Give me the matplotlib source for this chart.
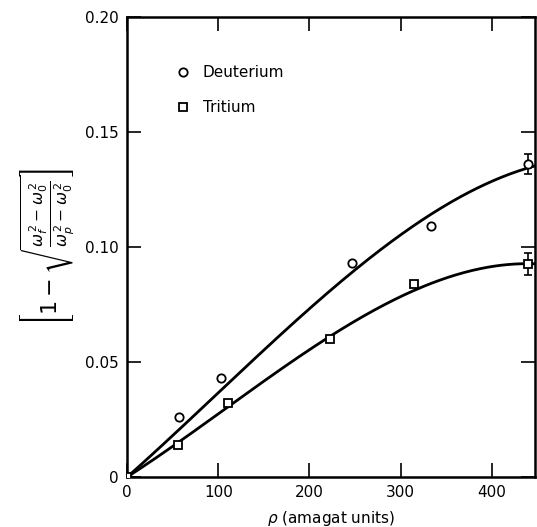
import matplotlib.pyplot as plt
import numpy as np

deut_rho = np.array([0, 57, 103, 247, 333, 440])
deut_val = np.array([0.0, 0.026, 0.043, 0.093, 0.109, 0.136])
deut_err = np.array([0, 0, 0, 0, 0, 0.0045])

trit_rho = np.array([0, 56, 111, 222, 315, 440])
trit_val = np.array([0.0, 0.014, 0.032, 0.060, 0.084, 0.0925])
trit_err = np.array([0, 0, 0, 0, 0, 0.0048])

# Smooth fitted curves
curve_rho = np.array([0, 50, 100, 150, 200, 250, 300, 350, 400, 425, 448])
deut_curve = np.array([0.0, 0.018, 0.0365, 0.055, 0.073, 0.0905, 0.1055, 0.118, 0.128, 0.1322, 0.1357])
trit_curve = np.array([0.0, 0.0135, 0.0275, 0.041, 0.0553, 0.0683, 0.0788, 0.0863, 0.0908, 0.0923, 0.0932])

plt.rcParams['font.family'] = 'DejaVu Sans'

fig = plt.figure(figsize=(5.37, 5.27), dpi=100)
ax = fig.add_axes([0.237, 0.095, 0.76, 0.873])

# smooth the traced curve: least squares through the origin (x, x^2, x^3)
xs = np.linspace(0, 448, 300)
A = np.vstack([curve_rho, curve_rho**2, curve_rho**3]).T
As = np.vstack([xs, xs**2, xs**3]).T
for yc in (deut_curve, trit_curve):
    c, *_ = np.linalg.lstsq(A, yc, rcond=None)
    ax.plot(xs, As @ c, color='black', lw=2, zorder=2)

mask_d = deut_err > 0
mask_t = trit_err > 0
ax.errorbar(deut_rho[mask_d], deut_val[mask_d], yerr=deut_err[mask_d], fmt='none',
            ecolor='black', elinewidth=1.2, capsize=3, capthick=1.2, zorder=3)
ax.errorbar(trit_rho[mask_t], trit_val[mask_t], yerr=trit_err[mask_t], fmt='none',
            ecolor='black', elinewidth=1.2, capsize=3, capthick=1.2, zorder=3)

ax.plot(deut_rho, deut_val, 'o', ms=6, mfc='white', mec='black', mew=1.3,
        linestyle='none', label='Deuterium', zorder=4)
ax.plot(trit_rho, trit_val, 's', ms=6, mfc='white', mec='black', mew=1.3,
        linestyle='none', label='Tritium', zorder=4)

ax.set_xlim(0, 448)
ax.set_ylim(0, 0.20)
ax.set_xticks([0, 100, 200, 300, 400])
ax.set_yticks([0, 0.05, 0.10, 0.15, 0.20])
ax.set_yticklabels(['0', '0.05', '0.10', '0.15', '0.20'])
ax.tick_params(direction='in', length=10, width=1.2, top=True, right=True,
               labelsize=11, pad=6)
for s in ax.spines.values():
    s.set_linewidth(1.8)

ax.set_xlabel(r'$\rho$ (amagat units)', fontsize=11, labelpad=6)
ax.set_ylabel(r'$\left[1-\sqrt{\frac{\omega_f^{\,2}-\omega_0^{\,2}}{\omega_p^{\,2}-\omega_0^{\,2}}}\right]$',
              fontsize=16, labelpad=6)

ax.legend(loc='upper left', bbox_to_anchor=(0.065, 0.925), frameon=False,
          fontsize=11, labelspacing=1.3, handletextpad=0.3, markerscale=1.0)

plt.savefig('out.png', dpi=100)
